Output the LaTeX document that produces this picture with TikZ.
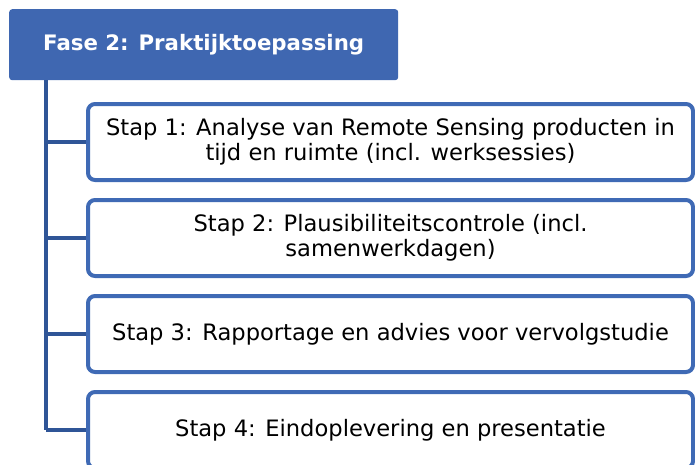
\documentclass[tikz,border=0pt]{standalone}
\usepackage{fontspec}
\setmainfont{DejaVu Sans}
\definecolor{hdr}{HTML}{3F67B1}
\definecolor{bord}{HTML}{3F6AB5}
\definecolor{conn}{HTML}{2F5597}
\begin{document}
\begin{tikzpicture}[x=1pt,y=-1pt,
  stepbox/.style={draw=bord,line width=4pt,rounded corners=7pt,fill=white,
    minimum width=605pt,minimum height=76pt,align=center,anchor=north west,
    font=\fontsize{22.6}{25}\selectfont,text=black,inner sep=0pt},
  conline/.style={draw=conn,line width=4.5pt}]
\useasboundingbox (0,0) rectangle (695,464);
\node[fill=hdr,rounded corners=3pt,minimum width=389pt,minimum height=71pt,anchor=north west,
  text=white,font=\bfseries\fontsize{21.3}{25}\selectfont,inner sep=0pt] (h) at (9,9) {Fase 2: Praktijktoepassing};
\coordinate (top) at (46,80);
\node[stepbox] (s1) at (86,102) {Stap 1: Analyse van Remote Sensing producten in\\tijd en ruimte (incl. werksessies)};
\node[stepbox] (s2) at (86,198) {Stap 2: Plausibiliteitscontrole (incl.\\samenwerkdagen)};
\node[stepbox] (s3) at (86,294) {Stap 3: Rapportage en advies voor vervolgstudie};
\node[stepbox] (s4) at (86,390) {Stap 4: Eindoplevering en presentatie};
\coordinate (bot) at (top |- s4.west);
\draw[conline] (top) -- (bot);
\foreach \s in {s1,s2,s3,s4}{\draw[conline] (top |- \s.west) -- (\s.west);}
\end{tikzpicture}
\end{document}
